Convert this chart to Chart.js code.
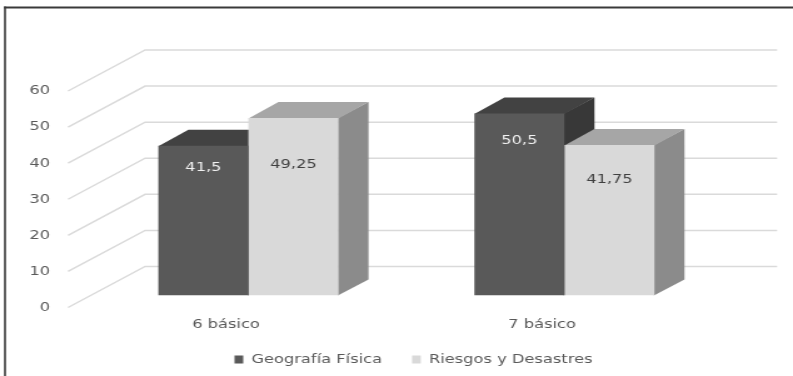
<!DOCTYPE html>
<html>
<head>
<meta charset="utf-8">
<script src="https://cdn.jsdelivr.net/npm/chart.js@4"></script>
<style>
  html, body { margin: 0; padding: 0; background: #fff; }
  #grafico { display: block; }
</style>
</head>
<body>
<!-- drawn narrow and stretched wide, like the original Excel graphic -->
<canvas id="grafico" width="634" height="376" style="width:793px;height:376px"></canvas>
<script>
const categorias = ['6 básico', '7 básico'];
const geografiaFisica = [41.5, 50.5];
const riesgosDesastres = [49.25, 41.75];
const ejeMax = 60;
const ejePaso = 10;

// how far below the top of each bar its value is written
const desplazamientoEtiquetas = [[22, 27], [47, 35]];

const fuente = { family: '"DejaVu Sans", sans-serif', size: 13 };

// depth of the floor, and where the columns sit inside it
const fondo = { dx: 61.6, dy: -41 };
const inicioBarra = 0.29;
const profBarra = 0.39;

function formatoComa(v) {
  return String(v).replace('.', ',');
}

const caras3d = {
  id: 'caras3d',
  afterLayout(chart) {
    // legend sits a little right of the middle
    chart.legend.left += 13.6;
    chart.legend.right += 13.6;
  },
  beforeDraw(chart) {
    const ctx = chart.ctx;
    ctx.save();
    ctx.fillStyle = '#3a3a3a';
    ctx.fillRect(3.2, 6.5, chart.width, 2);
    ctx.fillRect(3.2, 6.5, 1.6, chart.height);
    ctx.restore();
  },
  beforeDatasetsDraw(chart) {
    const { ctx, chartArea, scales } = chart;
    const y = scales.y;

    // grid lines run along the side wall and then across the back wall
    ctx.save();
    ctx.strokeStyle = '#dadada';
    ctx.lineWidth = 1.5;
    y.ticks.forEach(t => {
      const py = y.getPixelForValue(t.value);
      ctx.beginPath();
      ctx.moveTo(chartArea.left, py);
      ctx.lineTo(chartArea.left + fondo.dx, py + fondo.dy);
      ctx.lineTo(chartArea.right + fondo.dx, py + fondo.dy);
      ctx.stroke();
    });
    ctx.restore();

    // push the columns back into the floor; restored after the datasets are drawn
    ctx.save();
    ctx.translate(fondo.dx * inicioBarra, fondo.dy * inicioBarra);

    const barras = [];
    chart.data.datasets.forEach((ds, d) => {
      chart.getDatasetMeta(d).data.forEach(bar => barras.push({ bar, ds }));
    });
    barras.sort((a, b) => a.bar.x - b.bar.x);

    const px = fondo.dx * profBarra;
    const py = fondo.dy * profBarra;
    barras.forEach(({ bar, ds }) => {
      const { x, y: top, base, width } = bar.getProps(['x', 'y', 'base', 'width'], true);
      const l = x - width / 2;
      const r = x + width / 2;

      ctx.fillStyle = ds.colorLado;
      ctx.beginPath();
      ctx.moveTo(r - 0.5, top);
      ctx.lineTo(r + px, top + py);
      ctx.lineTo(r + px, base + py);
      ctx.lineTo(r - 0.5, base);
      ctx.closePath();
      ctx.fill();

      ctx.fillStyle = ds.colorTapa;
      ctx.beginPath();
      ctx.moveTo(l, top + 0.5);
      ctx.lineTo(r, top + 0.5);
      ctx.lineTo(r + px, top + py);
      ctx.lineTo(l + px, top + py);
      ctx.closePath();
      ctx.fill();
    });
  },
  afterDatasetsDraw(chart) {
    const ctx = chart.ctx;
    ctx.font = `${fuente.size}px ${fuente.family}`;
    ctx.textAlign = 'center';
    ctx.textBaseline = 'middle';
    chart.data.datasets.forEach((ds, d) => {
      ctx.fillStyle = ds.colorEtiqueta;
      chart.getDatasetMeta(d).data.forEach((bar, i) => {
        const { x, y } = bar.getProps(['x', 'y'], true);
        ctx.fillText(formatoComa(ds.data[i]), x, y + desplazamientoEtiquetas[d][i]);
      });
    });
    ctx.restore();
  }
};

const grafico = new Chart(document.getElementById('grafico'), {
  type: 'bar',
  data: {
    labels: categorias,
    datasets: [
      {
        label: 'Geografía Física',
        data: geografiaFisica,
        backgroundColor: '#595959',
        colorTapa: '#424242',
        colorLado: '#383838',
        colorEtiqueta: '#f2f2f2',
        borderWidth: 0
      },
      {
        label: 'Riesgos y Desastres',
        data: riesgosDesastres,
        backgroundColor: '#d9d9d9',
        colorTapa: '#a6a6a6',
        colorLado: '#8b8b8b',
        colorEtiqueta: '#404040',
        borderWidth: 0
      }
    ]
  },
  options: {
    responsive: false,
    animation: false,
    events: [],
    layout: { padding: { left: 0, right: 0, top: 91, bottom: 0 } },
    datasets: {
      bar: { categoryPercentage: 0.57, barPercentage: 1 }
    },
    scales: {
      x: {
        grid: { display: false, drawTicks: false },
        border: { display: false },
        ticks: { color: '#595959', font: fuente, padding: 9 },
        afterFit: s => { s.height = 21.5; }
      },
      y: {
        min: 0,
        max: ejeMax,
        grid: { display: false, drawTicks: false },
        border: { display: false },
        ticks: { stepSize: ejePaso, color: '#595959', font: fuente, padding: 14.4 },
        afterFit: s => { s.width = 54.4; }
      },
      y2: {
        position: 'right',
        grid: { display: false, drawTicks: false },
        border: { display: false },
        ticks: { display: false },
        afterFit: s => { s.width = 74.3; }
      }
    },
    plugins: {
      legend: {
        position: 'bottom',
        labels: {
          color: '#595959',
          font: fuente,
          boxWidth: 7,
          boxHeight: 8,
          padding: 24
        }
      },
      tooltip: { enabled: false }
    }
  },
  plugins: [caras3d]
});
</script>
</body>
</html>
